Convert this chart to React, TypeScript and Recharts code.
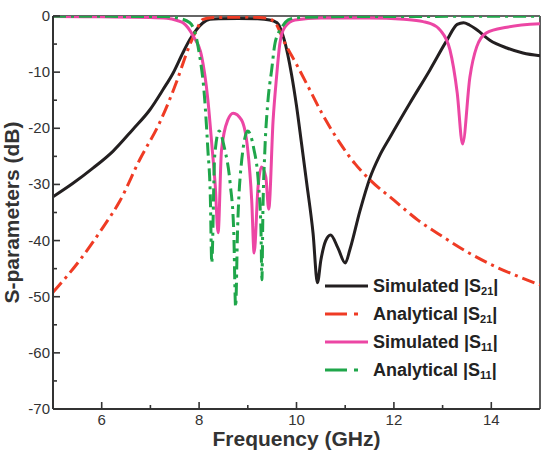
import { LineChart, Line, XAxis, YAxis, ReferenceLine, Legend } from "recharts";

// [frequency GHz, magnitude dB]
const SIM_S21: [number, number][] = [
  [5.0, -32.2], [5.41, -29.8], [5.82, -27.1], [6.23, -24.1], [6.64, -20.2], [6.99, -16.7],
  [7.26, -13.1], [7.47, -10.1], [7.67, -6.5], [7.81, -4.2], [7.95, -2.4], [8.08, -1.2],
  [8.22, -0.6], [8.4, -0.5], [8.8, -0.45], [9.2, -0.5], [9.45, -0.7], [9.6, -1.2],
  [9.75, -4.3], [9.9, -10.5], [10.0, -16], [10.1, -22.5], [10.21, -29.8], [10.34, -38.7],
  [10.43, -47.5], [10.5, -43.5], [10.6, -40], [10.7, -39], [10.85, -41.3], [11.0, -44],
  [11.1, -41.5], [11.3, -34.8], [11.51, -28.8], [11.7, -25], [11.92, -21.6], [12.33, -15.5],
  [12.74, -9.6], [13.09, -4.3], [13.3, -1.5], [13.43, -1.2], [13.55, -1.6], [13.71, -2.5],
  [13.97, -4.3], [14.32, -5.7], [14.65, -6.6], [15.0, -7.1],
];

const ANA_S21: [number, number][] = [
  [5.0, -49.2], [5.55, -43.5], [6.03, -37.6], [6.37, -33], [6.78, -25.6], [7.19, -19],
  [7.53, -11.9], [7.77, -6], [7.95, -2.4], [8.08, -0.6], [8.25, -0.3], [9.0, -0.2],
  [9.4, -0.4], [9.56, -1.2], [9.76, -4.8], [10.03, -9.1], [10.24, -12.6], [10.52, -17.3],
  [10.89, -22.6], [11.2, -26.3], [11.51, -29.2], [12.0, -32.8], [12.5, -36.4], [13.0, -39.3],
  [13.5, -42], [14.0, -44.3], [14.5, -46.2], [15.0, -47.9],
];

const SIM_S11: [number, number][] = [
  [5.0, -0.1], [6.0, -0.15], [7.0, -0.25], [7.34, -0.4], [7.55, -0.8], [7.67, -1.2],
  [7.88, -3.6], [8.05, -7.1], [8.18, -14.9], [8.27, -23.8], [8.33, -30], [8.39, -38.6],
  [8.46, -23.9], [8.59, -18.5], [8.7, -17.3], [8.87, -18.5], [9.0, -23.9], [9.08, -32.8],
  [9.13, -42.2], [9.21, -30.5], [9.28, -26.9], [9.37, -28.7], [9.43, -34.4], [9.52, -18.5],
  [9.59, -10.9], [9.66, -4.8], [9.76, -2], [9.97, -0.7], [10.5, -0.35], [11.5, -0.35],
  [12.2, -0.6], [12.6, -1.0], [12.74, -1.3], [12.95, -2.5], [13.15, -6], [13.3, -13.7],
  [13.41, -22.8], [13.56, -10.9], [13.7, -5.5], [13.9, -3], [14.32, -2], [15.0, -1.4],
];

const ANA_S11: [number, number][] = [
  [5.0, -0.05], [7.3, -0.1], [7.53, -0.3], [7.81, -1.2], [8.0, -6.5], [8.11, -14.3],
  [8.18, -23.8], [8.23, -32], [8.26, -44], [8.32, -25], [8.41, -20.5], [8.52, -23.5],
  [8.64, -30], [8.71, -38], [8.75, -51.8], [8.79, -38], [8.86, -27], [9.0, -20.5],
  [9.12, -23.5], [9.22, -30], [9.27, -38], [9.29, -47], [9.31, -35], [9.35, -24],
  [9.41, -15.5], [9.49, -9.6], [9.56, -4.8], [9.7, -2], [9.83, -0.7], [10.0, -0.3],
  [11.0, -0.1], [15.0, -0.05],
];

const X_TICKS = [6, 7, 8, 9, 10, 11, 12, 13, 14];
const Y_TICKS = [-70, -65, -60, -55, -50, -45, -40, -35, -30, -25, -20, -15, -10, -5, 0];

const SERIES = [
  { key: "simS21", label: "Simulated", sub: "21", points: SIM_S21, color: "#231f20", dash: undefined, legendDash: undefined },
  { key: "anaS21", label: "Analytical", sub: "21", points: ANA_S21, color: "#ef3b24", dash: "13 5 3 5", legendDash: "22 7 4 20" },
  { key: "simS11", label: "Simulated", sub: "11", points: SIM_S11, color: "#ec46a4", dash: undefined, legendDash: undefined },
  { key: "anaS11", label: "Analytical", sub: "11", points: ANA_S11, color: "#1fa64a", dash: "13 5 3 5", legendDash: "22 7 4 20" },
];

const W = 546;
const H = 452;
const PLOT_LEFT = 53;
const PLOT_RIGHT = 540;
const PLOT_TOP = 16;
const PLOT_BOTTOM = 409;
const AXIS = "#333";
const FONT = "'Liberation Sans', Arial, sans-serif";

// ticks point inward; only the even GHz / every 10 dB get a label
const XTick = (props: any) => {
  const { x, payload } = props;
  const major = payload.value % 2 === 0;
  return (
    <g>
      <line x1={x} x2={x} y1={PLOT_BOTTOM} y2={PLOT_BOTTOM - (major ? 7 : 4)} stroke={AXIS} strokeWidth={1.6} />
      {major && (
        <text x={x} y={PLOT_BOTTOM + 16} textAnchor="middle" fontSize={15} fontFamily={FONT} fill="#333">
          {payload.value}
        </text>
      )}
    </g>
  );
};

const YTick = (props: any) => {
  const { y, payload } = props;
  const major = payload.value % 10 === 0;
  return (
    <g>
      <line x1={PLOT_LEFT} x2={PLOT_LEFT + (major ? 7 : 4)} y1={y} y2={y} stroke={AXIS} strokeWidth={1.6} />
      {major && (
        <text x={PLOT_LEFT - 3} y={y + 5} textAnchor="end" fontSize={15} fontFamily={FONT} fill="#333">
          {payload.value}
        </text>
      )}
    </g>
  );
};

const titleStyle = { fontFamily: FONT, fontWeight: 700, fontSize: 21, fill: "#333" };

const XTitle = () => (
  <text x={(PLOT_LEFT + PLOT_RIGHT) / 2} y={446} textAnchor="middle" style={titleStyle}>
    Frequency (GHz)
  </text>
);

const YTitle = () => {
  const cy = (PLOT_TOP + PLOT_BOTTOM) / 2;
  return (
    <text x={11} y={cy + 7.5} textAnchor="middle" transform={`rotate(-90 11 ${cy})`} style={titleStyle}>
      S-parameters (dB)
    </text>
  );
};

const LegendBox = () => (
  <div style={{ fontFamily: FONT, fontWeight: 700, fontSize: 18, color: "#222" }}>
    {SERIES.map((s) => (
      <div key={s.key} style={{ display: "flex", alignItems: "center", height: 28 }}>
        <svg width={43} height={6} style={{ marginRight: 5 }}>
          <line x1={0} x2={43} y1={3} y2={3} stroke={s.color} strokeWidth={3} strokeDasharray={s.legendDash} />
        </svg>
        <span style={{ whiteSpace: "nowrap" }}>
          {s.label} |S
          <span style={{ fontSize: 11, verticalAlign: "-3px", lineHeight: 0 }}>{s.sub}</span>|
        </span>
      </div>
    ))}
  </div>
);

export default function App() {
  return (
    <div style={{ position: "absolute", left: 0, top: 0, width: W, height: H, background: "#fff" }}>
      <LineChart width={W} height={H} margin={{ top: PLOT_TOP, right: W - PLOT_RIGHT, bottom: 0, left: 0 }}>
        <XAxis
          type="number"
          dataKey="f"
          domain={[5, 15]}
          ticks={X_TICKS}
          allowDataOverflow
          height={H - PLOT_BOTTOM}
          tickLine={false}
          tick={<XTick />}
          axisLine={{ stroke: AXIS, strokeWidth: 2 }}
          label={<XTitle />}
        />
        <YAxis
          type="number"
          domain={[-70, 0]}
          ticks={Y_TICKS}
          allowDataOverflow
          width={PLOT_LEFT}
          tickLine={false}
          tick={<YTick />}
          axisLine={{ stroke: AXIS, strokeWidth: 2 }}
          label={<YTitle />}
        />
        <ReferenceLine y={0} stroke={AXIS} strokeWidth={1.6} />
        <ReferenceLine x={15} stroke={AXIS} strokeWidth={1.6} />
        {SERIES.map((s) => (
          <Line
            key={s.key}
            data={s.points.map(([f, db]) => ({ f, db }))}
            dataKey="db"
            type="monotone"
            stroke={s.color}
            strokeWidth={3}
            strokeDasharray={s.dash}
            dot={false}
            isAnimationActive={false}
          />
        ))}
        <Legend
          layout="vertical"
          align="center"
          verticalAlign="middle"
          content={<LegendBox />}
          wrapperStyle={{ left: 325, top: 272, width: 200 }}
        />
      </LineChart>
    </div>
  );
}
